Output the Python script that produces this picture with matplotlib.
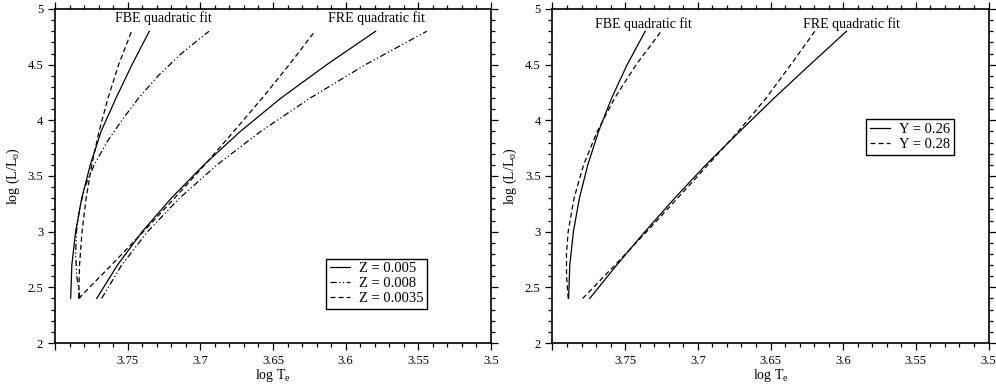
import matplotlib
matplotlib.use("Agg")
import matplotlib.pyplot as plt
from matplotlib.ticker import MultipleLocator, FuncFormatter

plt.rcParams['font.family'] = ['Liberation Serif', 'DejaVu Serif']
plt.rcParams['mathtext.fontset'] = 'custom'
plt.rcParams['mathtext.rm'] = 'Liberation Serif'
plt.rcParams['mathtext.it'] = 'Liberation Serif:italic'

# log L values shared by the fitted tracks
logl = [2.4, 2.7, 3.0, 3.3, 3.6, 3.9, 4.2, 4.5, 4.8]

# ---- left panel: metallicity (log Te at each logl) ----
fbe_z005 = [3.7892, 3.7884, 3.7858, 3.7816, 3.7757, 3.7683, 3.7580, 3.7470, 3.7351]
fbe_z0035 = [3.7837, 3.7831, 3.7814, 3.7786, 3.7747, 3.7697, 3.7635, 3.7562, 3.7473]
fbe_z008_l = [2.40, 2.6, 2.8, 3.0, 3.2, 3.4, 3.6, 3.8, 4.0, 4.2, 4.4, 4.6, 4.8]
fbe_z008 = [3.7828, 3.7850, 3.7858, 3.7852, 3.7832, 3.7795, 3.7730, 3.7645,
            3.7540, 3.7425, 3.7290, 3.7130, 3.6940]

fre_z005 = [3.7713, 3.7570, 3.7400, 3.7200, 3.6975, 3.6725, 3.6445, 3.6130, 3.5794]
fre_z008 = [3.7679, 3.7541, 3.7363, 3.7144, 3.6885, 3.6585, 3.6244, 3.5864, 3.5442]
fre_z0035 = [3.7837, 3.7612, 3.7392, 3.7178, 3.6970, 3.6770, 3.6574, 3.6388, 3.6212]

# ---- right panel: helium abundance ----
fbe_y26 = [3.7889, 3.7881, 3.7856, 3.7815, 3.7757, 3.7683, 3.7593, 3.7486, 3.7362]
fbe_y28_l = [2.4, 2.6, 2.8, 3.0, 3.3, 3.6, 3.9, 4.2, 4.5, 4.8]
fbe_y28 = [3.7892, 3.7903, 3.7904, 3.7892, 3.7852, 3.7786, 3.7692, 3.7572, 3.7424, 3.7252]

fre_y26 = [3.7744, 3.7558, 3.7364, 3.7160, 3.6945, 3.6712, 3.6475, 3.6228, 3.5977]
fre_y28 = [3.7792, 3.7570, 3.7352, 3.7140, 3.6930, 3.6722, 3.6530, 3.6360, 3.6195]

solid = dict(color='black', lw=0.9, ls='-')
dashed = dict(color='black', lw=0.9, ls=(0, (4, 2.5)))
dashdotdot = dict(color='black', lw=0.9, ls=(0, (5, 2, 1, 2, 1, 2)))


def style_axes(ax):
    ax.set_xlim(3.8, 3.5)
    ax.set_ylim(2, 5)
    ax.xaxis.set_major_locator(MultipleLocator(0.05))
    ax.xaxis.set_minor_locator(MultipleLocator(0.01))
    ax.yaxis.set_major_locator(MultipleLocator(0.5))
    ax.yaxis.set_minor_locator(MultipleLocator(0.1))
    ax.xaxis.set_major_formatter(FuncFormatter(lambda v, p: '' if v > 3.79 else '%g' % round(v, 2)))
    ax.yaxis.set_major_formatter(FuncFormatter(lambda v, p: '%g' % round(v, 1)))
    ax.tick_params(which='both', direction='out', top=True, right=True, labelsize=9, width=0.9)
    ax.tick_params(which='major', length=5)
    ax.tick_params(which='minor', length=3)
    for s in ax.spines.values():
        s.set_linewidth(1.2)
    ax.set_xlabel(r'log T$_\mathrm{e}$', fontsize=10, labelpad=0)
    ax.set_ylabel(r'log (L/L$_\mathrm{o}$)', fontsize=10, labelpad=4)


def boxed_legend(ax, handles, labels, anchor):
    leg = ax.legend(handles, labels, loc='lower left', bbox_to_anchor=anchor, fontsize=10.5,
                    handlelength=1.4, handletextpad=0.6, labelspacing=0.12,
                    borderpad=0.25, borderaxespad=0, fancybox=False)
    leg.get_frame().set_edgecolor('black')
    leg.get_frame().set_linewidth(1.0)
    leg.get_frame().set_alpha(1)


fig = plt.figure(figsize=(9.96, 3.9), dpi=100)
ax1 = fig.add_axes([0.0552, 0.1205, 0.4378, 0.8565])
ax2 = fig.add_axes([0.5547, 0.1205, 0.4378, 0.8565])

l1, = ax1.plot(fbe_z005, logl, **solid)
l2, = ax1.plot(fbe_z008, fbe_z008_l, **dashdotdot)
l3, = ax1.plot(fbe_z0035, logl, **dashed)
ax1.plot(fre_z005, logl, **solid)
ax1.plot(fre_z008, logl, **dashdotdot)
ax1.plot(fre_z0035, logl, **dashed)
ax1.text(3.7257, 4.92, 'FBE quadratic fit', ha='center', va='center', fontsize=10)
ax1.text(3.5788, 4.92, 'FRE quadratic fit', ha='center', va='center', fontsize=10)
style_axes(ax1)
boxed_legend(ax1, [l1, l2, l3], ['Z = 0.005', 'Z = 0.008', 'Z = 0.0035'], (0.622, 0.102))

r1, = ax2.plot(fbe_y26, logl, **solid)
r2, = ax2.plot(fbe_y28, fbe_y28_l, **dashed)
ax2.plot(fre_y26, logl, **solid)
ax2.plot(fre_y28, logl, **dashed)
ax2.text(3.7376, 4.866, 'FBE quadratic fit', ha='center', va='center', fontsize=10)
ax2.text(3.5942, 4.866, 'FRE quadratic fit', ha='center', va='center', fontsize=10)
style_axes(ax2)
boxed_legend(ax2, [r1, r2], ['Y = 0.26', 'Y = 0.28'], (0.719, 0.563))

fig.savefig('out.png', dpi=100)
